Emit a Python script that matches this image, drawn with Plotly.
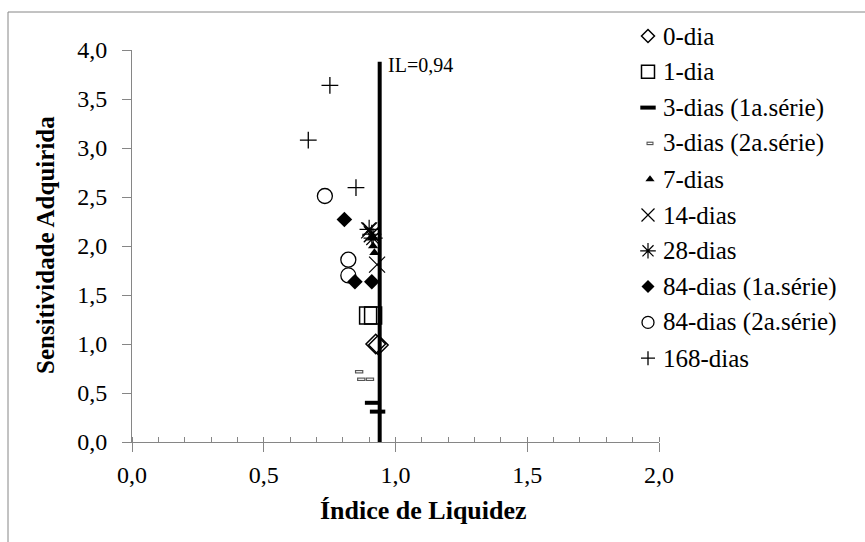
import plotly.graph_objects as go

# ---- data ----
IL = 0.94
IL_TOP = 3.88

d0_x = [0.925, 0.935]
d0_y = [1.00, 0.99]
d1_x = [0.896, 0.915]
d1_y = [1.29, 1.29]
d3a_x = [0.913, 0.932]
d3a_y = [0.40, 0.31]
d3b_x = [0.862, 0.870, 0.903]
d3b_y = [0.717, 0.64, 0.64]
d7_x = [0.91, 0.915, 0.92]
d7_y = [2.08, 2.00, 1.93]
d14_x = [0.90, 0.91, 0.93]
d14_y = [2.16, 2.12, 1.81]
d28_x = [0.90, 0.91, 0.915]
d28_y = [2.17, 2.12, 2.08]
d84a_x = [0.806, 0.846, 0.91]
d84a_y = [2.27, 1.635, 1.635]
d84b_x = [0.732, 0.821, 0.821]
d84b_y = [2.51, 1.86, 1.70]
d168_x = [0.751, 0.669, 0.850]
d168_y = [3.64, 3.08, 2.595]

names = ["0-dia", "1-dia", "3-dias (1a.série)", "3-dias (2a.série)", "7-dias",
         "14-dias", "28-dias", "84-dias (1a.série)", "84-dias (2a.série)", "168-dias"]

FONT = "Liberation Serif"
AX = "#868686"

# layout geometry in pixels
W, H = 865, 542
PX0, PX1 = 132, 659          # x axis extent
PY0, PY1 = 442, 50           # y axis extent (bottom, top)
TOPM = 10                    # top margin (overlay subplot reaches here)
AREA_H = PY0 - TOPM

def px(p):
    return (p - PX0) / float(PX1 - PX0)
def py(p):  # paper y relative to plotting area (TOPM..PY0)
    return (PY0 - p) / float(AREA_H)

fig = go.Figure()

# IL reference line
fig.add_trace(go.Scatter(x=[IL, IL], y=[0, IL_TOP], mode="lines",
                         line=dict(color="black", width=4), showlegend=False,
                         hoverinfo="skip"))

# styles: (symbol, plot size, legend size, colour, line width, legend x)
styles = [
    ("diamond-open", 15, 10, "black", 1.5, 648),
    ("square-open", 17, 13, "black", 1.5, 648),
    ("line-ew", 11, 11, "black", 4, 648),
    ("line-ew", 6, 5, "#555555", 3.5, 650),
    ("triangle-up", 9, 8, "black", 0, 650),
    ("x-thin-open", 16, 13, "black", 1.2, 648),
    ("asterisk-open", 16, 13, "black", 1.2, 648),
    ("diamond", 12, 10, "black", 0, 648),
    ("circle-open", 15, 12, "black", 1.3, 648),
    ("cross-thin-open", 12, 10, "black", 1.3, 648),
]
series = [(d0_x, d0_y), (d1_x, d1_y), (d3a_x, d3a_y), (d3b_x, d3b_y), (d7_x, d7_y),
          (d14_x, d14_y), (d28_x, d28_y), (d84a_x, d84a_y), (d84b_x, d84b_y),
          (d168_x, d168_y)]

for (sx, sy), name, (sym, size, _, col, lw, _) in zip(series, names, styles):
    fig.add_trace(go.Scatter(
        x=sx, y=sy, mode="markers", name=name, showlegend=False,
        marker=dict(symbol=sym, size=size, color=col, line=dict(color=col, width=lw))))
    if name == "3-dias (2a.série)":
        fig.add_trace(go.Scatter(
            x=sx, y=sy, mode="markers", showlegend=False, hoverinfo="skip",
            marker=dict(symbol="line-ew", size=4.3, color="white",
                        line=dict(color="white", width=1.2))))

# manual legend drawn on a pixel-scaled overlay subplot
ROW0, ROWGAP = 36, 35.8
annotations = []
for i, (name, (sym, _, lsize, col, lw, lx)) in enumerate(zip(names, styles)):
    ry = ROW0 + ROWGAP * i
    fig.add_trace(go.Scatter(
        x=[lx], y=[ry], xaxis="x2", yaxis="y2", mode="markers", showlegend=False,
        hoverinfo="skip", cliponaxis=False,
        marker=dict(symbol=sym, size=lsize, color=col, line=dict(color=col, width=lw))))
    if name == "3-dias (2a.série)":
        fig.add_trace(go.Scatter(
            x=[lx], y=[ry], xaxis="x2", yaxis="y2", mode="markers", showlegend=False,
            hoverinfo="skip", cliponaxis=False,
            marker=dict(symbol="line-ew", size=3.5, color="white",
                        line=dict(color="white", width=1.2))))
    annotations.append(dict(text=name, xref="paper", yref="paper", x=px(661), y=py(ry),
                            showarrow=False, xanchor="left", yanchor="middle",
                            font=dict(family=FONT, size=25, color="black")))

annotations += [
    dict(text="<b>Índice de Liquidez</b>", xref="paper", yref="paper",
         x=px(423), y=py(510), showarrow=False, xanchor="center",
         yanchor="middle", font=dict(family=FONT, size=26)),
    dict(text="<b>Sensitividade Adquirida</b>", xref="paper", yref="paper",
         x=px(46), y=py(245), showarrow=False, textangle=-90,
         xanchor="center", yanchor="middle", font=dict(family=FONT, size=25)),
    dict(text="IL=0,94", xref="x", yref="y", x=IL, y=3.85, showarrow=False,
         xanchor="left", yanchor="middle", xshift=6,
         font=dict(family=FONT, size=20)),
]

fig.update_layout(
    width=W, height=H,
    margin=dict(l=PX0, r=W - PX1, t=TOPM, b=H - PY0, autoexpand=False),
    paper_bgcolor="white", plot_bgcolor="rgba(0,0,0,0)",
    separators=", ",
    font=dict(family=FONT, size=24, color="black"),
    showlegend=False,
    xaxis=dict(range=[0, 2], dtick=0.5, tickformat=".1f", showgrid=False,
               zeroline=False, showline=True, linecolor=AX, linewidth=1,
               ticks="outside", ticklen=9, tickcolor=AX, tickwidth=1,
               ticklabelstandoff=2, anchor="y", automargin=False,
               minor=dict(dtick=0.1, ticks="inside", ticklen=5, tickcolor=AX,
                          showgrid=False),
               tickfont=dict(family=FONT, size=24)),
    yaxis=dict(range=[0, 4], dtick=0.5, tickformat=".1f", showgrid=False,
               domain=[0, (PY0 - PY1) / float(AREA_H)], anchor="x", automargin=False,
               zeroline=False, showline=True, linecolor=AX, linewidth=1,
               ticks="outside", ticklen=9, tickcolor=AX, tickwidth=1,
               ticklabelstandoff=10,
               tickfont=dict(family=FONT, size=24)),
    xaxis2=dict(domain=[0, 1], range=[PX0, PX1], visible=False, fixedrange=True,
                anchor="y2", automargin=False),
    yaxis2=dict(domain=[0, 1], range=[PY0, TOPM], visible=False, fixedrange=True,
                anchor="x2", automargin=False),
    annotations=annotations,
    shapes=[
        dict(type="rect", xref="paper", yref="paper",
             x0=px(8), x1=px(880), y0=py(560), y1=py(12),
             line=dict(color=AX, width=1), fillcolor="rgba(0,0,0,0)", layer="below"),
    ],
)

fig.write_html("out.html")
